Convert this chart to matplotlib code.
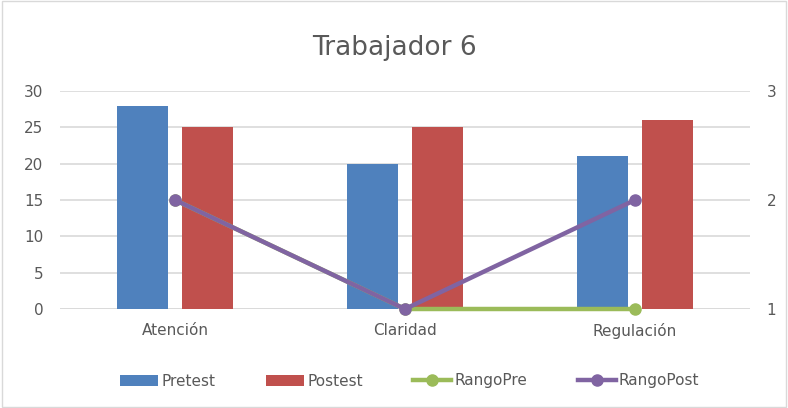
import numpy as np
import matplotlib.pyplot as plt

categorias = ['Atención', 'Claridad', 'Regulación']
pretest = [28, 20, 21]
postest = [25, 25, 26]
rango_pre = [2, 1, 1]
rango_post = [2, 1, 2]

azul = '#4f81bd'
rojo = '#c0504d'
verde = '#9bbb59'
morado = '#8064a2'
gris = '#595959'

fig = plt.figure(figsize=(7.88, 4.08), dpi=100)
ax = fig.add_axes([60/788, 1 - 309/408, 690/788, 218/408])
x = np.arange(len(categorias))
ancho = 0.222

ax.set_axisbelow(True)
ax.bar(x - 0.143, pretest, ancho, color=azul, label='Pretest', zorder=2)
ax.bar(x + 0.143, postest, ancho, color=rojo, label='Postest', zorder=2)
ax.set_xlim(-0.5, 2.5)
ax.set_ylim(0, 30)
ax.set_yticks(range(0, 31, 5))
ax.grid(axis='y', color='#d9d9d9', linewidth=1.2, zorder=0)
ax.set_xticks(x)
ax.set_xticklabels(categorias)
for s in ax.spines.values():
    s.set_visible(False)
ax.axhline(0, color='#d9d9d9', linewidth=1.2, zorder=1)
ax.tick_params(length=0, labelsize=11, colors=gris, pad=12)
ax.tick_params(axis='x', pad=10)

ax2 = ax.twinx()
ax2.plot(x, rango_pre, color=verde, lw=3.2, marker='o', ms=8, label='RangoPre',
         zorder=3, clip_on=False)
ax2.plot(x, rango_post, color=morado, lw=3.2, marker='o', ms=8, label='RangoPost',
         zorder=4, clip_on=False)
ax2.set_ylim(1, 3)
ax2.set_yticks([1, 2, 3])
for s in ax2.spines.values():
    s.set_visible(False)
ax2.tick_params(length=0, labelsize=11, colors=gris, pad=12)
ax2.set_xlim(-0.5, 2.5)

fig.text(0.5, 1 - 48/408, 'Trabajador 6', ha='center', va='center', fontsize=19, color=gris)

h1, l1 = ax.get_legend_handles_labels()
h2, l2 = ax2.get_legend_handles_labels()
fig.legend(h1 + h2, l1 + l2, loc='center', bbox_to_anchor=(0.52, 1 - 381/408), ncol=4,
           frameon=False, fontsize=11, labelcolor=gris, handlelength=2.5,
           columnspacing=3.3, handletextpad=0.2)

# marco exterior
fig.add_artist(plt.Rectangle((0.002, 0.003), 0.995, 0.994, transform=fig.transFigure,
                             fill=False, edgecolor='#d9d9d9', lw=1))

fig.savefig('out.png', dpi=100)
